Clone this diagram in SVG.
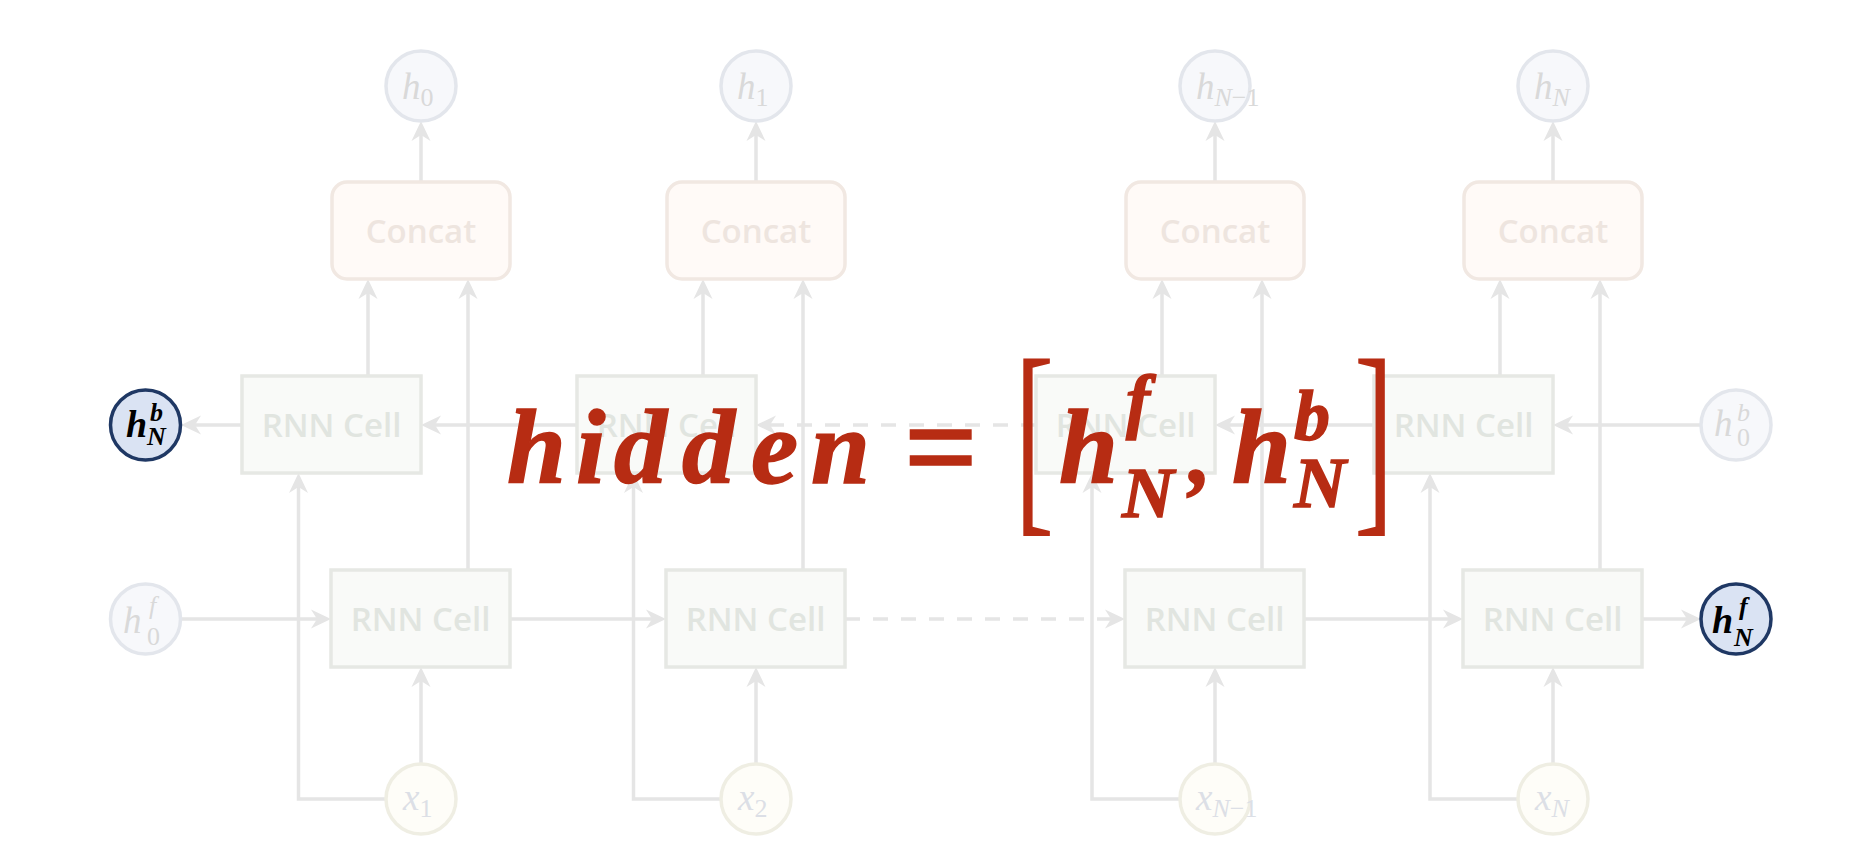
<svg xmlns="http://www.w3.org/2000/svg" width="1850" height="847" viewBox="0 0 1850 847">
<defs>
<marker id="ah" markerUnits="userSpaceOnUse" markerWidth="22" markerHeight="22" viewBox="0 0 22 22" refX="14" refY="11" orient="auto">
<path d="M0,1.5 L20,11 L0,20.5 L6,11 Z" fill="#e5e5e5"/>
</marker>
<style>
.out{fill:#f7f8fb;stroke:#e3e6ec;stroke-width:3.5}
.xin{fill:#fefdf8;stroke:#efeee3;stroke-width:3.5}
.hl{fill:#dae3f3;stroke:#1f3864;stroke-width:3.5}
.cc{fill:#fffaf7;stroke:#f1e8e2;stroke-width:3.5}
.rnn{fill:#f9faf8;stroke:#e6e8e4;stroke-width:3.5}
.ct{font-family:"Open Sans","Noto Sans",sans-serif;font-weight:600;font-size:33px;fill:#eee5df;text-anchor:middle}
.rt{font-family:"Open Sans","Noto Sans",sans-serif;font-weight:600;font-size:33px;fill:#e1e5e0;text-anchor:middle}
.lb{font-family:"Liberation Serif","Times New Roman",serif;font-style:italic;font-size:37px;fill:#d9d9d9}
.xl{font-family:"Liberation Serif","Times New Roman",serif;font-style:italic;font-size:37px;fill:#dcdfe6}
.bl{font-family:"Liberation Serif","Times New Roman",serif;font-style:italic;font-weight:bold;font-size:38px;fill:#000}
.s{font-size:26px}
.up{font-style:normal}
.cn{fill:none;stroke:#e5e5e5;stroke-width:3.5;marker-end:url(#ah)}
.ds{stroke-dasharray:15 13}
.fm{font-family:"Liberation Serif","Times New Roman",serif;font-style:italic;font-weight:bold;fill:#b72c13;stroke:#b72c13;stroke-width:1.5}
.br{font-family:"Liberation Serif","Times New Roman",serif;font-size:214px;fill:#b72c13}
</style>
</defs>
<rect width="1850" height="847" fill="#ffffff"/>

<g id="connectors">
<line class="cn" x1="421" y1="182" x2="421" y2="127"/>
<line class="cn" x1="756" y1="182" x2="756" y2="127"/>
<line class="cn" x1="1215" y1="182" x2="1215" y2="127"/>
<line class="cn" x1="1553" y1="182" x2="1553" y2="127"/>
<line class="cn" x1="368" y1="376" x2="368" y2="285"/>
<line class="cn" x1="703" y1="376" x2="703" y2="285"/>
<line class="cn" x1="1162" y1="376" x2="1162" y2="285"/>
<line class="cn" x1="1500" y1="376" x2="1500" y2="285"/>
<line class="cn" x1="468" y1="570" x2="468" y2="285"/>
<line class="cn" x1="803" y1="570" x2="803" y2="285"/>
<line class="cn" x1="1262" y1="570" x2="1262" y2="285"/>
<line class="cn" x1="1600" y1="570" x2="1600" y2="285"/>
<line class="cn" x1="421" y1="764" x2="421" y2="673"/>
<line class="cn" x1="756" y1="764" x2="756" y2="673"/>
<line class="cn" x1="1215" y1="764" x2="1215" y2="673"/>
<line class="cn" x1="1553" y1="764" x2="1553" y2="673"/>
<polyline class="cn" points="386,799 298.5,799 298.5,479"/>
<polyline class="cn" points="721,799 633.5,799 633.5,479"/>
<polyline class="cn" points="1180,799 1092,799 1092,479"/>
<polyline class="cn" points="1518,799 1430,799 1430,479"/>
<line class="cn" x1="181" y1="619" x2="325" y2="619"/>
<line class="cn" x1="510" y1="619" x2="660" y2="619"/>
<line class="cn ds" x1="845" y1="619" x2="1119" y2="619"/>
<line class="cn" x1="1304" y1="619" x2="1457" y2="619"/>
<line class="cn" x1="1642" y1="619" x2="1695" y2="619"/>
<line class="cn" x1="1700" y1="425" x2="1559" y2="425"/>
<line class="cn" x1="1374" y1="425" x2="1221" y2="425"/>
<line class="cn ds" x1="1036" y1="425" x2="762" y2="425"/>
<line class="cn" x1="577" y1="425" x2="427" y2="425"/>
<line class="cn" x1="242" y1="425" x2="187" y2="425"/>
</g>

<g id="out0"><circle class="out" cx="421" cy="86" r="35"/><text class="lb" x="402" y="99">h<tspan class="s up" dy="7">0</tspan></text></g>
<g id="out1"><circle class="out" cx="756" cy="86" r="35"/><text class="lb" x="737" y="99">h<tspan class="s up" dy="7">1</tspan></text></g>
<g id="outN1"><circle class="out" cx="1215" cy="86" r="35"/><text class="lb" x="1196" y="99">h<tspan class="s" dy="7">N</tspan><tspan class="s up">−1</tspan></text></g>
<g id="outN"><circle class="out" cx="1553" cy="86" r="35"/><text class="lb" x="1534" y="99">h<tspan class="s" dy="7">N</tspan></text></g>

<g id="concat1"><rect class="cc" x="332" y="182" width="178" height="97" rx="15"/><text class="ct" x="421" y="243">Concat</text></g>
<g id="concat2"><rect class="cc" x="667" y="182" width="178" height="97" rx="15"/><text class="ct" x="756" y="243">Concat</text></g>
<g id="concat3"><rect class="cc" x="1126" y="182" width="178" height="97" rx="15"/><text class="ct" x="1215" y="243">Concat</text></g>
<g id="concat4"><rect class="cc" x="1464" y="182" width="178" height="97" rx="15"/><text class="ct" x="1553" y="243">Concat</text></g>

<g id="bwd1"><rect class="rnn" x="242" y="376" width="179" height="97"/><text class="rt" x="331.5" y="437">RNN Cell</text></g>
<g id="bwd2"><rect class="rnn" x="577" y="376" width="179" height="97"/><text class="rt" x="666.5" y="437">RNN Cell</text></g>
<g id="bwd3"><rect class="rnn" x="1036" y="376" width="179" height="97"/><text class="rt" x="1125.5" y="437">RNN Cell</text></g>
<g id="bwd4"><rect class="rnn" x="1374" y="376" width="179" height="97"/><text class="rt" x="1463.5" y="437">RNN Cell</text></g>

<g id="fwd1"><rect class="rnn" x="331" y="570" width="179" height="97"/><text class="rt" x="420.5" y="631">RNN Cell</text></g>
<g id="fwd2"><rect class="rnn" x="666" y="570" width="179" height="97"/><text class="rt" x="755.5" y="631">RNN Cell</text></g>
<g id="fwd3"><rect class="rnn" x="1125" y="570" width="179" height="97"/><text class="rt" x="1214.5" y="631">RNN Cell</text></g>
<g id="fwd4"><rect class="rnn" x="1463" y="570" width="179" height="97"/><text class="rt" x="1552.5" y="631">RNN Cell</text></g>

<g id="x1"><circle class="xin" cx="421" cy="799" r="35"/><text class="xl" x="403" y="810">x<tspan class="s up" dy="7">1</tspan></text></g>
<g id="x2"><circle class="xin" cx="756" cy="799" r="35"/><text class="xl" x="738" y="810">x<tspan class="s up" dy="7">2</tspan></text></g>
<g id="xN1"><circle class="xin" cx="1215" cy="799" r="35"/><text class="xl" x="1196" y="810">x<tspan class="s" dy="7">N</tspan><tspan class="s up">−1</tspan></text></g>
<g id="xN"><circle class="xin" cx="1553" cy="799" r="35"/><text class="xl" x="1535" y="810">x<tspan class="s" dy="7">N</tspan></text></g>

<g id="hNb"><circle class="hl" cx="145.5" cy="425" r="35"/><text class="bl" x="126" y="437">h</text><text class="bl s" x="150" y="421">b</text><text class="bl s" x="147" y="445">N</text></g>
<g id="h0f"><circle class="out" cx="145.5" cy="619" r="35"/><text class="lb" x="123" y="633">h</text><text class="lb s" x="149" y="614">f</text><text class="lb s up" x="147" y="645">0</text></g>
<g id="h0b"><circle class="out" cx="1736" cy="425" r="35"/><text class="lb" x="1714" y="436">h</text><text class="lb s" x="1737" y="421">b</text><text class="lb s up" x="1737" y="446">0</text></g>
<g id="hNf"><circle class="hl" cx="1736" cy="619" r="35"/><text class="bl" x="1712" y="633">h</text><text class="bl s" x="1739" y="615">f</text><text class="bl s" x="1734" y="646">N</text></g>

<g id="formula">
<text class="fm" font-size="106" x="507 576 614 682 751 811" y="483">hidden</text>
<text class="fm" font-size="130" font-style="normal" x="903" y="490">=</text>
<text class="br" transform="translate(1025,507) scale(0.556,1)" x="-19" y="0">[</text>
<text class="fm" font-size="106" x="1059" y="483">h</text>
<text class="fm" font-size="72" x="1126" y="425">f</text>
<text class="fm" font-size="72" x="1122" y="517">N</text>
<text class="fm" font-size="90" x="1189" y="483">,</text>
<text class="fm" font-size="106" x="1232" y="483">h</text>
<text class="fm" font-size="72" x="1294" y="440">b</text>
<text class="fm" font-size="72" x="1294" y="507">N</text>
<text class="br" transform="translate(1358,507) scale(0.556,1)" x="-7" y="0">]</text>
</g>
</svg>
